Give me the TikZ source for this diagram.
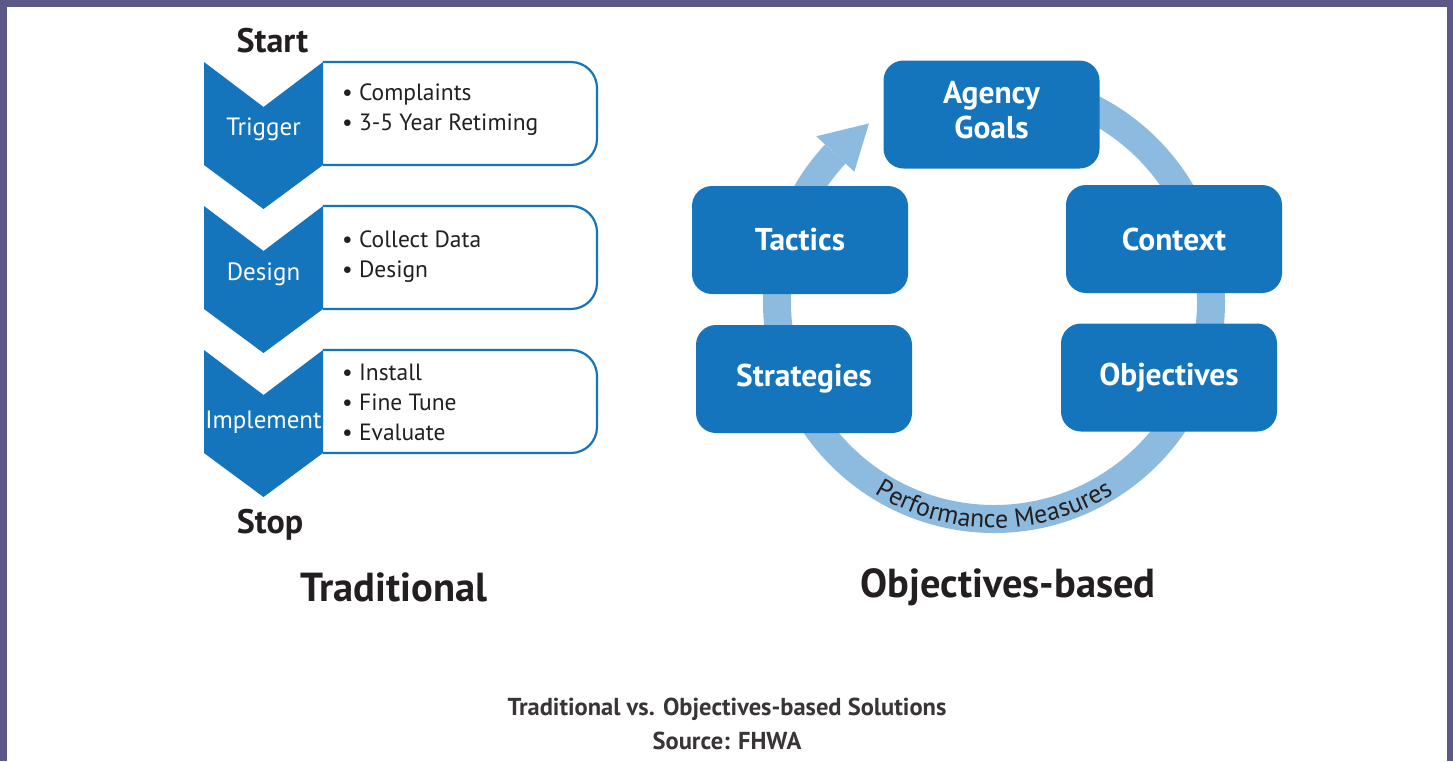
\documentclass[tikz,border=0pt]{standalone}
\usepackage{fontspec}
\setmainfont{PT Sans}
\usetikzlibrary{positioning,decorations.text}
\definecolor{fhwablue}{HTML}{1475BC}
\definecolor{ringblue}{HTML}{8DBBDF}
\definecolor{framepurple}{HTML}{5C588A}
\definecolor{inkdark}{HTML}{231F20}

\tikzset{
  chevron/.style={fill=fhwablue},
  steplabel/.style={text=white, inner sep=0pt, font=\fontsize{25}{28}\selectfont},
  listbox/.style={draw=fhwablue, line width=2.2pt, rounded corners=26pt},
  listtext/.style={anchor=west, align=left, inner sep=0pt, text=inkdark,
    font=\fontsize{23.5}{30}\selectfont},
  cyclebox/.style={fill=fhwablue, rounded corners=20pt, minimum width=216pt,
    minimum height=108pt, text=white, align=center,
    font=\bfseries\fontsize{31.5}{35}\selectfont},
  endlabel/.style={text=inkdark, font=\bfseries\fontsize{34}{34}\selectfont},
  headline/.style={text=inkdark, font=\bfseries\fontsize{40.5}{40}\selectfont},
  captionline/.style={text=inkdark!90, font=\bfseries\fontsize{24.5}{24}\selectfont},
}

\begin{document}
\begin{tikzpicture}[x=1pt,y=1pt]
 \useasboundingbox (0,0) rectangle (1453,-761);
 \fill[framepurple] (0,0) rectangle (1453,-761);
 \fill[white] (7,-7) rectangle (1447,-761);

 % traditional: list boxes first, chevrons on top
 \foreach \top in {62,206,350} {
   \draw[listbox] (323,-\top) -- (597,-\top) -- (597,{-\top-103}) -- (323,{-\top-103});
   \fill[chevron] (204,-\top) -- (263.5,{-\top-45}) -- (323,-\top) -- (323,{-\top-103})
     -- (263.5,{-\top-147}) -- (204,{-\top-103}) -- cycle;
 }
 \node[endlabel] (start) at (272.5,-41) {Start};
 \node[endlabel] (stop) at (270,-525) {Stop};

 \node[steplabel] (trigger) at (263.5,-129) {Trigger};
 \node[steplabel] (design) at (263.5,-274) {Design};
 \node[steplabel] (implement) at (263.5,-422) {Implement};

 \node[listtext] (triggerlist) at (342,-110) {• Complaints\\• 3-5 Year Retiming};
 \node[listtext] (designlist) at (342,-257) {• Collect Data\\• Design};
 \node[listtext] (implementlist) at (342,-402) {• Install\\• Fine Tune\\• Evaluate};

 \node[headline] (traditional) at (394,-587) {Traditional};

 % objectives-based: the ring goes under the boxes
 \coordinate (hub) at (994,-302);
 \draw[ringblue, line width=28pt] ([shift={(85:217pt)}]hub)
   arc[start angle=85, end angle=-223, radius=217pt];
 \fill[ringblue] ([shift={(137:243pt)}]hub) -- ([shift={(125:218pt)}]hub)
   -- ([shift={(137:191pt)}]hub) -- cycle;
 \path[decorate, decoration={text along path, text align=center, text color=inkdark,
   text={|\fontsize{26}{26}\selectfont|Performance Measures}}]
   ([shift={(-160:226pt)}]hub) arc[start angle=-160, end angle=-20, radius=226pt];

 \node[cyclebox, text depth=9pt] (goals) at (991.5,-114.5) {Agency\\Goals};
 \node[cyclebox] (tactics) at (800,-240) {Tactics};
 \node[cyclebox] (context) at (1174,-239) {Context};
 \node[cyclebox] (strategies) at (804,-379) {Strategies};
 \node[cyclebox] (objectives) at (1169,-377.5) {Objectives};

 \node[headline] (objbased) at (1008,-587) {Objectives-based};

 \node[captionline] (caption) at (727,-709) {Traditional vs. Objectives-based Solutions};
 \node[captionline, below=5pt of caption] (source) {Source: FHWA};
\end{tikzpicture}
\end{document}
